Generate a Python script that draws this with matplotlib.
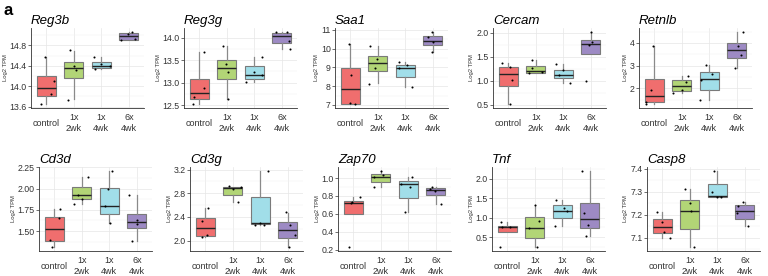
import matplotlib
matplotlib.use('Agg')
import matplotlib.pyplot as plt

plt.rcParams['font.family'] = ['Liberation Sans', 'DejaVu Sans']

groups = ['control', '1x\n2wk', '1x\n4wk', '6x\n4wk']
colors = ['#F06E6E', '#B2D576', '#A1DEE9', '#9D8AC4']

# box stats per group: (whisker low, q1, median, q3, whisker high)
reg3b_box = [(13.645, 13.80, 13.97, 14.20, 14.565), (13.75, 14.165, 14.35, 14.47, 14.70),
             (14.33, 14.355, 14.39, 14.48, 14.58), (14.91, 14.91, 14.98, 15.04, 15.07)]
reg3b_pts = [[14.565, 14.095, 13.855, 13.645], [14.71, 14.39, 14.31, 13.74],
             [14.58, 14.33, 14.39, 14.44], [15.02, 15.07, 14.91, 14.92]]
reg3b_jit = [[-0.04, 0.28, 0.17, -0.19], [-0.12, 0.02, 0.07, -0.2], [-0.27, -0.22, 0.3, 0.0], [-0.04, 0.12, -0.27, 0.22]]
reg3b_ticks = ['13.6', '14.0', '14.4', '14.8']

reg3g_box = [(12.52, 12.64, 12.78, 13.08, 13.68), (12.64, 13.09, 13.32, 13.50, 13.82),
             (13.01, 13.09, 13.18, 13.36, 13.57), (13.74, 13.87, 14.03, 14.10, 14.13)]
reg3g_pts = [[13.68, 12.88, 12.69, 12.52], [13.82, 13.41, 13.23, 12.64],
             [13.57, 13.18, 13.01, 13.23], [14.12, 14.13, 13.93, 13.75]]
reg3g_jit = [[0.19, 0.17, -0.17, -0.24], [-0.14, -0.01, 0.04, 0.05], [0.27, 0.28, -0.31, 0.0], [-0.22, 0.19, 0.27, 0.3]]
reg3g_ticks = ['12.5', '13.0', '13.5', '14.0']

saa1_box = [(7.03, 7.07, 7.83, 8.97, 10.22), (8.17, 8.79, 9.23, 9.59, 10.13),
            (7.94, 8.46, 8.96, 9.11, 9.28), (9.83, 10.20, 10.40, 10.68, 10.90)]
saa1_pts = [[10.22, 8.6, 7.05, 7.1], [10.13, 9.42, 8.99, 8.14], [9.28, 8.94, 7.94, 9.1], [10.90, 10.64, 10.35, 9.83]]
saa1_jit = [[-0.06, 0.03, 0.17, 0.0], [-0.29, -0.01, -0.09, -0.31], [-0.24, -0.23, 0.23, 0.05], [-0.02, -0.16, 0.01, -0.03]]
saa1_ticks = ['7', '8', '9', '10', '11']

cercam_box = [(0.51, 0.89, 1.15, 1.29, 1.37), (1.17, 1.17, 1.21, 1.30, 1.43),
              (0.96, 1.05, 1.11, 1.23, 1.34), (1.56, 1.56, 1.77, 1.85, 2.02)]
cercam_pts = [[1.37, 1.29, 1.01, 0.51], [1.43, 1.27, 1.17, 1.18], [1.34, 1.11, 0.96, 1.22], [2.02, 1.80, 1.75, 0.99]]
cercam_jit = [[-0.24, 0.05, 0.15, 0.05], [-0.15, -0.13, -0.25, 0.21], [-0.26, -0.15, 0.24, 0.0], [0.02, 0.04, -0.08, -0.18]]
cercam_ticks = ['0.5', '1.0', '1.5', '2.0']

retnlb_box = [(1.29, 1.40, 1.67, 2.41, 3.87), (1.80, 1.90, 2.09, 2.35, 2.55),
              (1.49, 1.93, 2.40, 2.70, 3.01), (2.88, 3.33, 3.67, 4.01, 4.50)]
retnlb_pts = [[3.87, 1.94, 1.39, 1.29], [2.55, 2.27, 1.94, 1.80], [3.01, 2.37, 1.49, 2.63], [4.50, 3.87, 3.49, 2.88]]
retnlb_jit = [[-0.04, -0.11, -0.3, -0.29], [0.24, 0.14, 0.0, -0.31], [-0.11, -0.29, -0.32, 0.1], [0.23, 0.04, 0.14, -0.08]]
retnlb_ticks = ['2', '3', '4']

cd3d_box = [(1.31, 1.38, 1.53, 1.67, 1.76), (1.82, 1.88, 1.92, 2.025, 2.14),
            (1.60, 1.70, 1.80, 2.005, 2.21), (1.38, 1.54, 1.61, 1.70, 1.92)]
cd3d_pts = [[1.76, 1.65, 1.40, 1.31], [2.14, 1.92, 1.82, 1.88], [2.21, 1.80, 1.60, 1.99], [1.925, 1.63, 1.585, 1.38]]
cd3d_jit = [[0.23, 0.18, -0.15, -0.09], [0.24, -0.13, -0.29, 0.0], [0.1, -0.16, 0.02, -0.05], [-0.29, 0.01, -0.01, -0.18]]
cd3d_ticks = ['1.50', '1.75', '2.00', '2.25']

cd3g_box = [(2.07, 2.075, 2.21, 2.377, 2.55), (2.66, 2.77, 2.89, 2.91, 2.91),
            (2.27, 2.29, 2.295, 2.74, 3.18), (1.89, 2.04, 2.18, 2.31, 2.47)]
cd3g_pts = [[2.55, 2.33, 2.07, 2.09], [2.92, 2.90, 2.65, 2.88], [3.18, 2.27, 2.27, 2.30], [2.48, 2.27, 2.10, 1.89]]
cd3g_jit = [[0.11, -0.13, -0.13, 0.05], [-0.13, 0.31, 0.18, 0.0], [0.29, -0.19, 0.13, 0.0], [-0.07, 0.08, 0.27, 0.04]]
cd3g_ticks = ['2.0', '2.4', '2.8', '3.2']

zap70_box = [(0.60, 0.60, 0.72, 0.74, 0.785), (0.90, 0.96, 1.01, 1.04, 1.08),
             (0.62, 0.78, 0.93, 0.97, 1.01), (0.71, 0.81, 0.865, 0.885, 0.90)]
zap70_pts = [[0.72, 0.785, 0.73, 0.23], [1.08, 1.01, 0.90, 1.03], [1.01, 0.62, 0.93, 0.90], [0.90, 0.88, 0.86, 0.71]]
zap70_jit = [[-0.07, 0.26, -0.04, -0.16], [0.0, -0.23, -0.23, 0.1], [0.14, -0.12, -0.28, 0.05], [-0.14, -0.2, -0.02, 0.18]]
zap70_ticks = ['0.2', '0.4', '0.6', '0.8', '1.0']

tnf_box = [(0.63, 0.63, 0.76, 0.79, 0.875), (0.24, 0.48, 0.74, 1.02, 1.31),
           (0.79, 0.99, 1.18, 1.31, 1.46), (0.52, 0.73, 0.96, 1.38, 2.20)]
tnf_pts = [[0.875, 0.76, 0.24, 0.77], [1.31, 0.74, 0.24, 0.92], [1.46, 0.79, 1.18, 1.25], [2.20, 1.11, 0.80, 0.52]]
tnf_jit = [[-0.21, -0.2, -0.25, 0.1], [0.0, -0.2, 0.07, 0.15], [-0.21, -0.27, 0.18, 0.05], [-0.3, -0.2, -0.07, -0.15]]
tnf_ticks = ['0.5', '1.0', '1.5', '2.0']

casp8_box = [(7.10, 7.12, 7.146, 7.18, 7.21), (7.06, 7.137, 7.217, 7.266, 7.31),
             (7.278, 7.278, 7.28, 7.335, 7.39), (7.15, 7.18, 7.216, 7.244, 7.255)]
casp8_pts = [[7.21, 7.17, 7.125, 7.10], [7.31, 7.217, 7.06, 7.25], [7.39, 7.278, 7.278, 7.30], [7.255, 7.24, 7.206, 7.15]]
casp8_jit = [[-0.17, 0.0, 0.06, 0.27], [-0.18, 0.06, 0.16, 0.0], [-0.11, 0.0, 0.12, -0.2], [-0.08, -0.24, -0.27, 0.12]]
casp8_ticks = ['7.1', '7.2', '7.3', '7.4']

panels = [
    ('Reg3b', reg3b_box, reg3b_pts, reg3b_jit, reg3b_ticks),
    ('Reg3g', reg3g_box, reg3g_pts, reg3g_jit, reg3g_ticks),
    ('Saa1', saa1_box, saa1_pts, saa1_jit, saa1_ticks),
    ('Cercam', cercam_box, cercam_pts, cercam_jit, cercam_ticks),
    ('Retnlb', retnlb_box, retnlb_pts, retnlb_jit, retnlb_ticks),
    ('Cd3d', cd3d_box, cd3d_pts, cd3d_jit, cd3d_ticks),
    ('Cd3g', cd3g_box, cd3g_pts, cd3g_jit, cd3g_ticks),
    ('Zap70', zap70_box, zap70_pts, zap70_jit, zap70_ticks),
    ('Tnf', tnf_box, tnf_pts, tnf_jit, tnf_ticks),
    ('Casp8', casp8_box, casp8_pts, casp8_jit, casp8_ticks),
]

W, H = 768, 276
fig = plt.figure(figsize=(W / 100, H / 100), dpi=100)

# panel placement in pixels: left edges, top/bottom of each row
lefts = [[31, 184, 335, 493, 639], [39, 190, 338, 492, 647]]
rows = [(28, 108), (167, 251)]
pw = 113

for i, (gene, box, pts, jit, ticks) in enumerate(panels):
    r, c = divmod(i, 5)
    top, bot = rows[r]
    ax = fig.add_axes([lefts[r][c] / W, 1 - bot / H, pw / W, (bot - top) / H])

    stats = [dict(whislo=b[0], q1=b[1], med=b[2], q3=b[3], whishi=b[4]) for b in box]
    bp = ax.bxp(stats, positions=[1, 2, 3, 4], widths=0.68, patch_artist=True,
                showfliers=False, showcaps=False,
                boxprops=dict(edgecolor='#7a7a7a', linewidth=0.8),
                whiskerprops=dict(color='#8a8a8a', linewidth=0.9),
                medianprops=dict(color='#222222', linewidth=1.0))
    for patch, col in zip(bp['boxes'], colors):
        patch.set_facecolor(col)

    for k in range(4):
        xs = [k + 1 + j for j in jit[k]]
        ax.scatter(xs, pts[k], s=2.2, color='black', zorder=4, linewidths=0)

    # y range like ggplot: data range plus 5% each side
    allv = [v for p in pts for v in p] + [v for b in box for v in b]
    lo, hi = min(allv), max(allv)
    pad = (hi - lo) * 0.05
    ax.set_ylim(lo - pad, hi + pad)

    tv = [float(t) for t in ticks]
    ax.set_yticks(tv)
    ax.set_yticklabels(ticks)
    step = tv[1] - tv[0]
    ax.set_yticks([t + step / 2 for t in tv[:-1]] + [tv[0] - step / 2, tv[-1] + step / 2], minor=True)
    ax.set_ylim(lo - pad, hi + pad)
    ax.set_xlim(0.45, 4.55)

    ax.set_xticks([1, 2, 3, 4])
    ax.set_xticklabels(groups, fontsize=6.5, color='#333333', linespacing=1.25)
    for lab in ax.get_xticklabels():
        lab.set_va('center')
    ax.tick_params(axis='x', length=0, pad=11)
    ax.tick_params(axis='y', length=2, width=0.5, color='#333333', labelsize=6.3, labelcolor='#333333', pad=1)
    ax.tick_params(axis='y', which='minor', length=0)

    ax.grid(True, which='major', color='#e6e6e6', linewidth=0.5)
    ax.grid(True, which='minor', axis='y', color='#f2f2f2', linewidth=0.35)
    ax.set_axisbelow(True)
    for s in ['top', 'right']:
        ax.spines[s].set_visible(False)
    for s in ['left', 'bottom']:
        ax.spines[s].set_color('#333333')
        ax.spines[s].set_linewidth(0.6)

    ax.set_ylabel('Log2 TPM', fontsize=4.2, labelpad=1.5, color='#333333')
    ax.set_title(gene, loc='left', fontsize=9.5, style='italic', pad=3)

fig.text(0.004, 0.99, 'a', fontsize=12, fontweight='bold', va='top', ha='left')

fig.savefig('out.png', dpi=100)
